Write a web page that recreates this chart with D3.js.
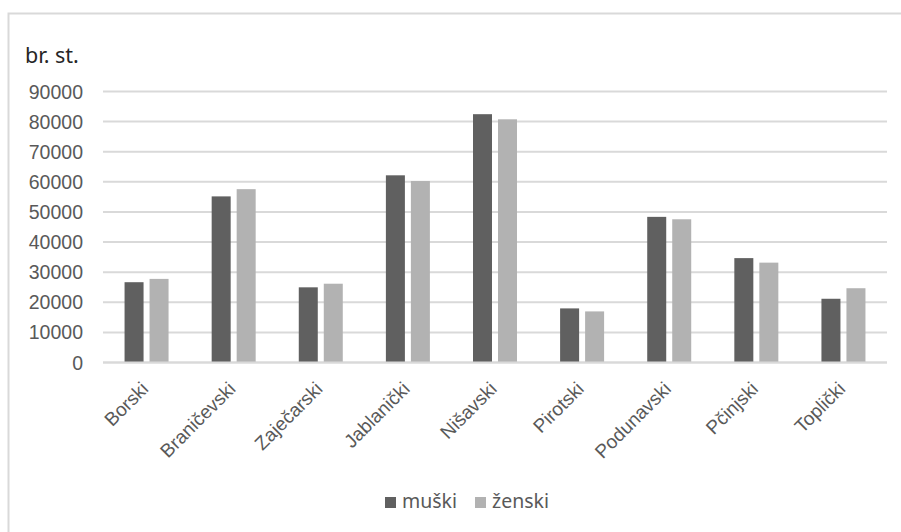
<!DOCTYPE html>
<html><head><meta charset="utf-8">
<script src="https://cdn.jsdelivr.net/npm/d3@7"></script>
<style>body{margin:0;background:#fff;} svg{display:block;font-family:"Noto Sans","Open Sans",sans-serif;}</style>
</head><body>
<svg id="c" width="901" height="532"></svg>
<script>
const categories = ["Borski","Braničevski","Zaječarski","Jablanički","Nišavski","Pirotski","Podunavski","Pčinjski","Toplički"];
const muski  = [26500, 55000, 24800, 62000, 82300, 17800, 48200, 34500, 21000];
const zenski = [27600, 57400, 26000, 60100, 80600, 16800, 47400, 33000, 24500];
const seriesNames = ["muški","ženski"];
const seriesColors = ["#606060","#b2b2b2"];
const yTicks = [0,10000,20000,30000,40000,50000,60000,70000,80000,90000];

const svg = d3.select("#c");
const m = {l:103, r:887, t:91, b:362};

// chart frame (top and left edges visible)
svg.append("path").attr("d","M8.5,532 L8.5,13.5 L901,13.5").attr("fill","none").attr("stroke","#d9d9d9").attr("stroke-width",2);

const x = d3.scaleBand().domain(categories).range([m.l,m.r]).paddingInner(0).paddingOuter(0);
const y = d3.scaleLinear().domain([0,90000]).range([m.b,m.t]);

// grid
const yAxis = d3.axisLeft(y).tickValues(yTicks).tickSize(-(m.r-m.l)).tickFormat(d=>String(d)).tickPadding(20);
const gy = svg.append("g").attr("transform",`translate(${m.l},0)`).call(yAxis);
gy.select(".domain").remove();
gy.selectAll(".tick line").attr("stroke","#d9d9d9").attr("stroke-width",2);
gy.selectAll(".tick text").attr("fill","#595959").attr("font-size",19.5).attr("dy","0.36em");

// bars
const bw = 19, gap = 6;
const data = categories.map((c,i)=>({c, v:[muski[i], zenski[i]]}));
const groups = svg.append("g").selectAll("g").data(data).join("g");
groups.selectAll("rect").data(d=>d.v.map((v,k)=>({c:d.c,v,k}))).join("rect")
  .attr("x",d=>x(d.c)+x.bandwidth()/2 - (bw*2+gap)/2 + d.k*(bw+gap))
  .attr("y",d=>y(d.v))
  .attr("width",bw)
  .attr("height",d=>y(0)-y(d.v))
  .attr("fill",d=>seriesColors[d.k]);

// x axis line
svg.append("line").attr("x1",m.l).attr("x2",m.r).attr("y1",y(0)+0.5).attr("y2",y(0)+0.5).attr("stroke","#d9d9d9").attr("stroke-width",2);

// x labels
const xAxis = d3.axisBottom(x).tickSize(0).tickPadding(0);
const gx = svg.append("g").attr("transform",`translate(0,${m.b})`).call(xAxis);
gx.select(".domain").remove();
gx.selectAll(".tick text")
  .attr("fill","#595959").attr("font-size",19)
  .attr("text-anchor","end")
  .attr("dy",0).attr("y",0)
  .attr("transform","translate(3,28) rotate(-45)");

// y title
svg.append("text").attr("x",25).attr("y",63).attr("font-size",21.5).attr("fill","#262626").text("br. st.");

// legend
const lg = svg.append("g");
const legendPos = [385, 475];
seriesNames.forEach((s,k)=>{
  lg.append("rect").attr("x",legendPos[k]).attr("y",497).attr("width",11).attr("height",11).attr("fill",seriesColors[k]);
  lg.append("text").attr("x",legendPos[k]+17).attr("y",508).attr("font-size",19.5).attr("fill","#595959").text(s);
});
</script>
</body></html>
